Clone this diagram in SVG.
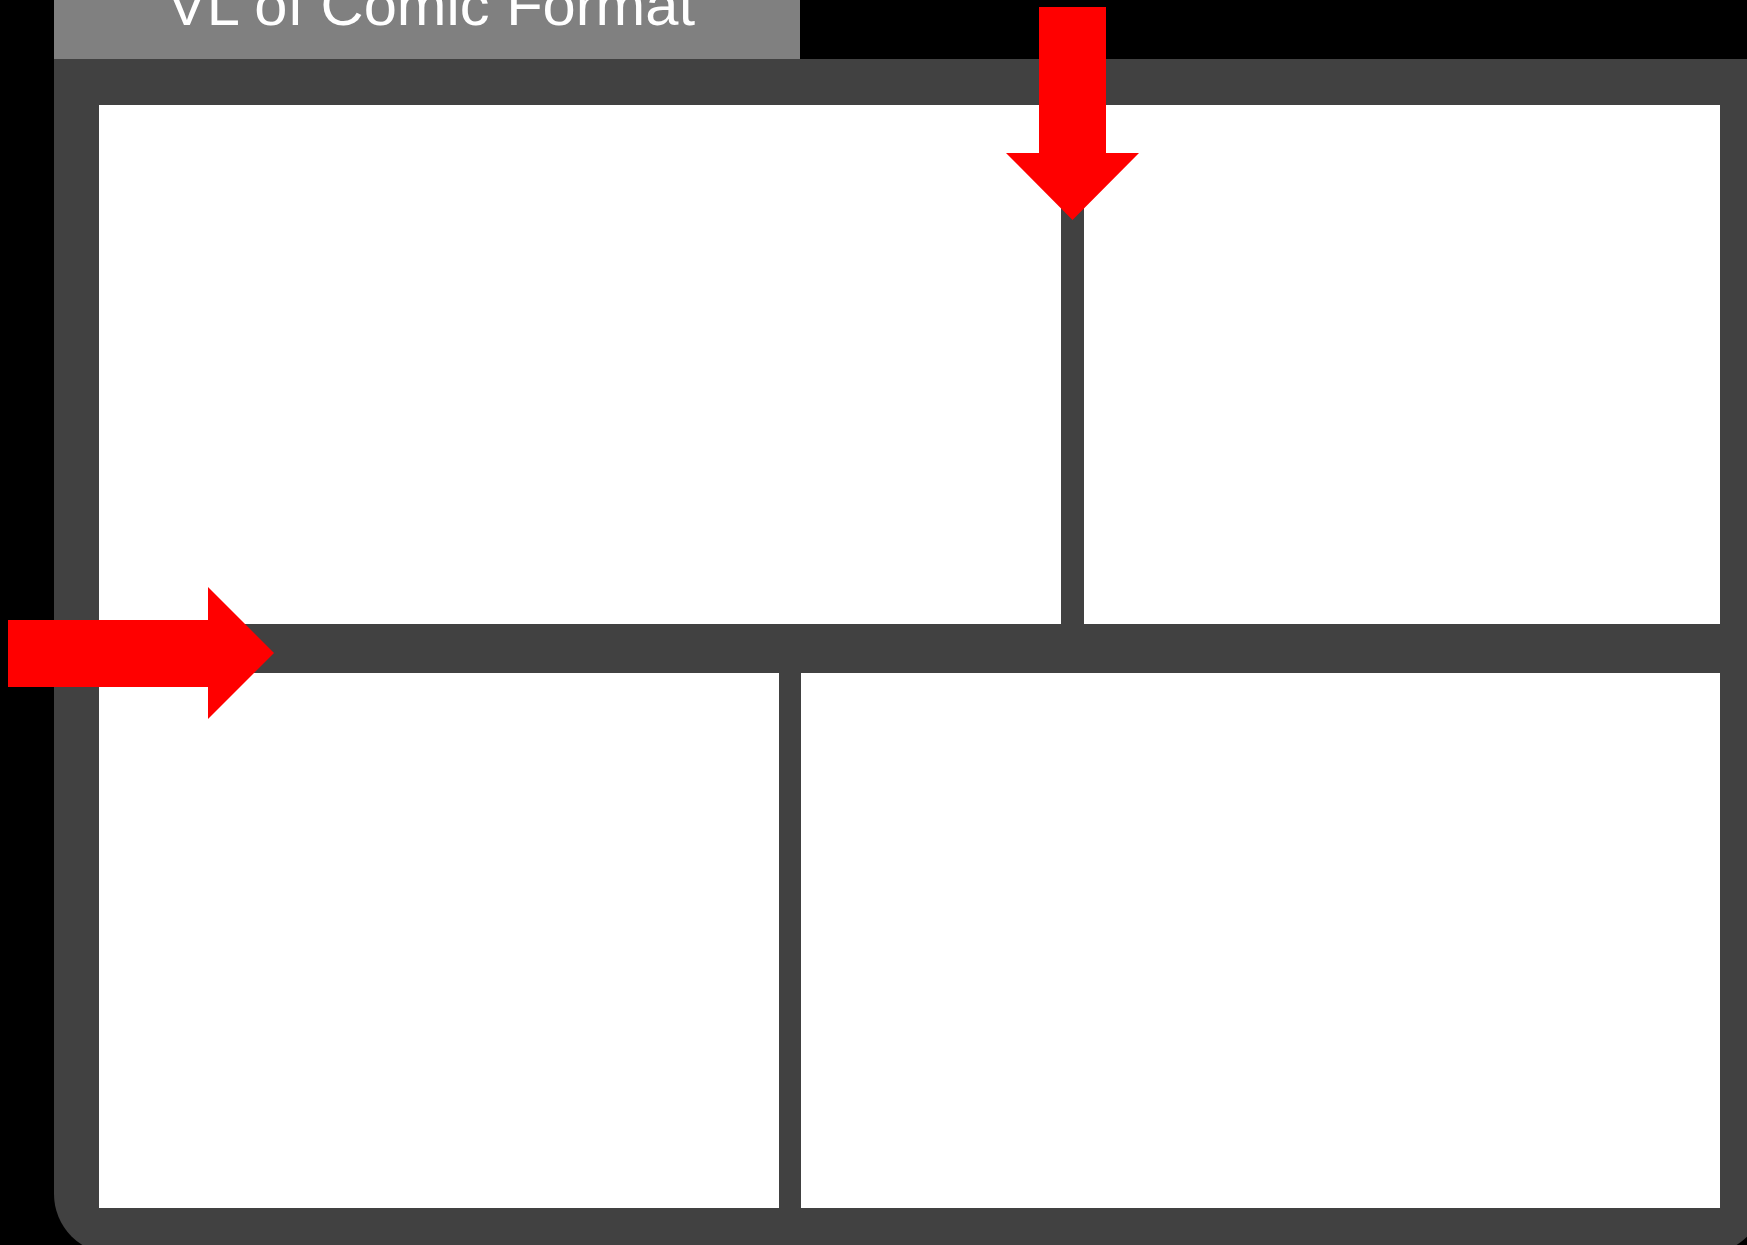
<svg xmlns="http://www.w3.org/2000/svg" width="1747" height="1245" viewBox="0 0 1747 1245">
  <style>
    .panel { fill: #ffffff; }
    .frame { fill: #414141; }
    .arrow { fill: #ff0000; }
    .title { fill: #ffffff; font-family: "Liberation Sans", Arial, sans-serif; font-size: 58px; }
  </style>
  <rect x="0" y="0" width="1747" height="1245" fill="#000000"/>
  <g id="title-bar">
    <rect x="54" y="0" width="746" height="61" fill="#808080"/>
    <text class="title" x="167" y="25" textLength="528" lengthAdjust="spacingAndGlyphs">VL of Comic Format</text>
  </g>
  <g id="frame">
    <path class="frame" d="M54,59 H1765 V1194 A60,60 0 0 1 1705,1254 H114 A60,60 0 0 1 54,1194 Z"/>
  </g>
  <g id="panel-top-left"><rect class="panel" x="99" y="105" width="962" height="519"/></g>
  <g id="panel-top-right"><rect class="panel" x="1084" y="105" width="636" height="519"/></g>
  <g id="panel-bottom-left"><rect class="panel" x="99" y="673" width="680" height="535"/></g>
  <g id="panel-bottom-right"><rect class="panel" x="801" y="673" width="919" height="535"/></g>
  <g id="connectors">
    <polygon class="arrow" points="1039,7 1106,7 1106,153 1139,153 1072.5,220 1006,153 1039,153"/>
    <polygon class="arrow" points="8,620 208,620 208,587 274,653 208,719 208,687 8,687"/>
  </g>
</svg>
